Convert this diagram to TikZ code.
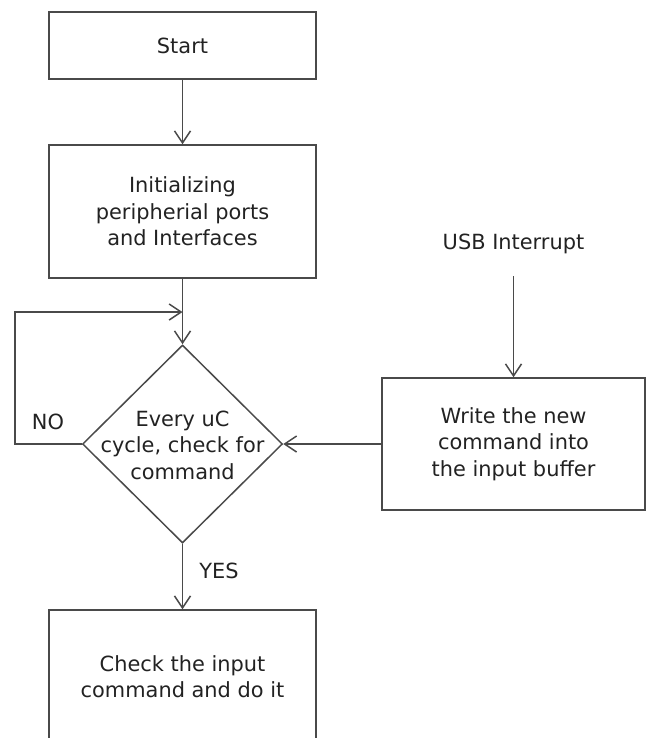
\documentclass[tikz,border=0pt]{standalone}
\usepackage{fontspec}
\setmainfont{DejaVu Sans}
\usetikzlibrary{arrows.meta,shapes.geometric}
\definecolor{ln}{HTML}{4A4A4A}
\definecolor{tx}{HTML}{222222}
\begin{document}
\begin{tikzpicture}[x=1pt,y=-1pt,
  every node/.style={text=tx,font=\fontsize{20.9}{26.5}\selectfont},
  box/.style={draw=ln,line width=1.5pt,rectangle,minimum width=267pt,align=center,inner sep=0pt},
  dec/.style={draw=ln,line width=1.5pt,diamond,minimum width=200pt,minimum height=198pt,inner sep=0pt},
  conn/.style={draw=ln,line width=1.5pt,-{Straight Barb[length=12pt,width=16pt,line width=1.5pt]}},
  lbl/.style={align=center,inner sep=0pt}]
\useasboundingbox (0,0) rectangle (647,738);
\clip (0,0) rectangle (647,738);
\node[box,minimum height=67pt] (start) at (182.5,45.5) {Start};
\node[box,minimum height=133pt] (init) at (182.5,211.5) {Initializing\\peripherial ports\\and Interfaces};
\node[dec] (dec) at (182.5,444) {};
\node[lbl] (dectext) at (182.5,445) {Every uC\\cycle, check for\\command};
\node[box,minimum width=263pt,minimum height=132pt] (write) at (513.5,444) {Write the new\\command into\\the input buffer};
\node[lbl] (usb) at (513.5,244) {USB Interrupt};
\node[box,minimum height=133pt] (check) at (182.5,676.5) {Check the input\\command and do it};
\node[lbl] (no) at (48,422) {NO};
\node[lbl] (yes) at (219,571) {YES};
\coordinate (loopbl) at (15,444);
\coordinate (looptl) at (15,312);
\coordinate (loopm) at (182.5,312);
\draw[conn] (start) -- (init);
\draw[conn] (init) -- (dec.north);
\draw[conn] (dec.west) -- (loopbl) -- (looptl) -- (loopm);
\draw[conn] (write.west) -- (dec.east);
\draw[conn] (usb.south) ++(0,22) -- (write.north);
\draw[conn] (dec.south) -- (check.north);
\end{tikzpicture}
\end{document}
